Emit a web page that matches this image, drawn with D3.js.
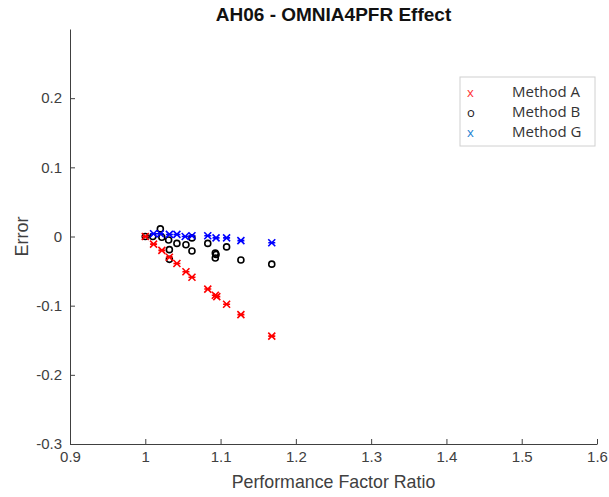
<!DOCTYPE html>
<html>
<head>
<meta charset="utf-8">
<script src="https://cdn.jsdelivr.net/npm/d3@7"></script>
<style>
  body { margin: 0; background: #fff; }
  text { font-family: "Liberation Sans", Arial, sans-serif; }
</style>
</head>
<body>
<script>
// values
var seriesNames = ["Method A", "Method B", "Method G"];

var methodA = [
  [1.000, 0.000], [1.011, -0.011], [1.022, -0.020], [1.032, -0.030],
  [1.042, -0.039], [1.054, -0.051], [1.062, -0.059], [1.083, -0.076],
  [1.093, -0.085], [1.095, -0.087], [1.108, -0.098], [1.127, -0.113],
  [1.168, -0.144]
];

var methodB = [
  [1.000, 0.000], [1.010, 0.000], [1.020, 0.011], [1.022, -0.001],
  [1.031, -0.005], [1.032, -0.019], [1.032, -0.033], [1.042, -0.010],
  [1.054, -0.012], [1.062, -0.002], [1.062, -0.021], [1.083, -0.010],
  [1.093, -0.024], [1.094, -0.026], [1.093, -0.031], [1.108, -0.015],
  [1.127, -0.034], [1.168, -0.040]
];

var methodG = [
  [1.011, 0.004], [1.020, 0.004], [1.032, 0.003], [1.042, 0.003],
  [1.053, 0.000], [1.062, 0.001], [1.083, 0.001], [1.094, -0.002],
  [1.108, -0.002], [1.127, -0.006], [1.168, -0.009]
];

var xTicks = [0.9, 1, 1.1, 1.2, 1.3, 1.4, 1.5, 1.6];
var yTicks = [-0.3, -0.2, -0.1, 0, 0.1, 0.2];

var margin = {top: 29, bottom: 53, left: 70, right: 12},
    width = 609 - margin.left - margin.right,
    height = 497 - margin.top - margin.bottom;

var svg = d3.select("body").append("svg")
    .attr("width", 609)
    .attr("height", 497);

var g = svg.append("g")
    .attr("transform", "translate(" + margin.left + "," + margin.top + ")");

var x = d3.scaleLinear().domain([0.9, 1.6]).range([0, width]);
var y = d3.scaleLinear().domain([-0.3, 0.3]).range([height, 0]);

var axisColor = "#404040";
// plain hyphen for negatives, like the original
var fmt = function(d) { return String(+d.toFixed(2)); };

// x axis, ticks pointing inward like matlab
var xAxis = g.append("g")
    .attr("transform", "translate(0," + height + ")")
    .call(d3.axisBottom(x).tickValues(xTicks).tickSizeInner(-5).tickSizeOuter(0)
      .tickPadding(10).tickFormat(fmt));

var yAxis = g.append("g")
    .call(d3.axisLeft(y).tickValues(yTicks).tickSizeInner(-5).tickSizeOuter(0)
      .tickPadding(8).tickFormat(fmt));

[xAxis, yAxis].forEach(function(a) {
  a.select(".domain").attr("stroke", axisColor);
  a.selectAll(".tick line").attr("stroke", axisColor);
  a.selectAll(".tick text")
    .attr("fill", axisColor)
    .style("font-size", "15px")
    .style("font-family", "'Liberation Sans', Arial, sans-serif");
});
xAxis.selectAll(".tick text").attr("dy", "0.55em");

// titles
svg.append("text")
    .attr("x", margin.left + width / 2)
    .attr("y", 21)
    .attr("text-anchor", "middle")
    .style("font-size", "19px")
    .style("font-weight", "bold")
    .attr("fill", "#111")
    .text("AH06 - OMNIA4PFR Effect");

svg.append("text")
    .attr("x", margin.left + width / 2)
    .attr("y", 488)
    .attr("text-anchor", "middle")
    .style("font-size", "17.8px")
    .attr("fill", axisColor)
    .text("Performance Factor Ratio");

svg.append("text")
    .attr("transform", "translate(28," + (margin.top + y(0)) + ") rotate(-90)")
    .attr("text-anchor", "middle")
    .style("font-size", "18px")
    .attr("fill", axisColor)
    .text("Error");

// markers
function star(sel, color) {
  var s = 3.5;
  sel.append("path")
    .attr("d", "M" + (-s) + "," + (-s) + "L" + s + "," + s +
               "M" + (-s) + "," + s + "L" + s + "," + (-s) +
               "M" + (-s) + ",0L" + s + ",0")
    .attr("stroke", color)
    .attr("stroke-width", 1.6)
    .attr("fill", "none");
}

g.selectAll(".ptB").data(methodB).enter().append("circle")
    .attr("class", "ptB")
    .attr("cx", function(d) { return x(d[0]); })
    .attr("cy", function(d) { return y(d[1]); })
    .attr("r", 3)
    .attr("fill", "none")
    .attr("stroke", "#000")
    .attr("stroke-width", 1.6);

g.selectAll(".ptA").data(methodA).enter().append("g")
    .attr("class", "ptA")
    .attr("transform", function(d) { return "translate(" + x(d[0]) + "," + y(d[1]) + ")"; })
    .call(star, "#ff0000");

g.selectAll(".ptG").data(methodG).enter().append("g")
    .attr("class", "ptG")
    .attr("transform", function(d) { return "translate(" + x(d[0]) + "," + y(d[1]) + ")"; })
    .call(star, "#0000ff");

// legend
var legend = svg.append("g").attr("transform", "translate(460,77)");
legend.append("rect")
    .attr("width", 135)
    .attr("height", 69)
    .attr("fill", "#fff")
    .attr("stroke", "#d0d0d0");

var legendSymbols = ["x", "o", "x"];
var legendColors = ["#ff3030", "#222", "#2080d0"];

seriesNames.forEach(function(name, i) {
  var yy = 20 + i * 20;
  legend.append("text")
    .attr("x", 7)
    .attr("y", yy)
    .style("font-size", "13px")
    .style("font-family", "'Open Sans', sans-serif")
    .attr("fill", legendColors[i])
    .text(legendSymbols[i]);
  legend.append("text")
    .attr("x", 52)
    .attr("y", yy)
    .style("font-size", "15px")
    .style("font-family", "'Open Sans', sans-serif")
    .attr("fill", "#333")
    .text(name);
});
</script>
</body>
</html>
